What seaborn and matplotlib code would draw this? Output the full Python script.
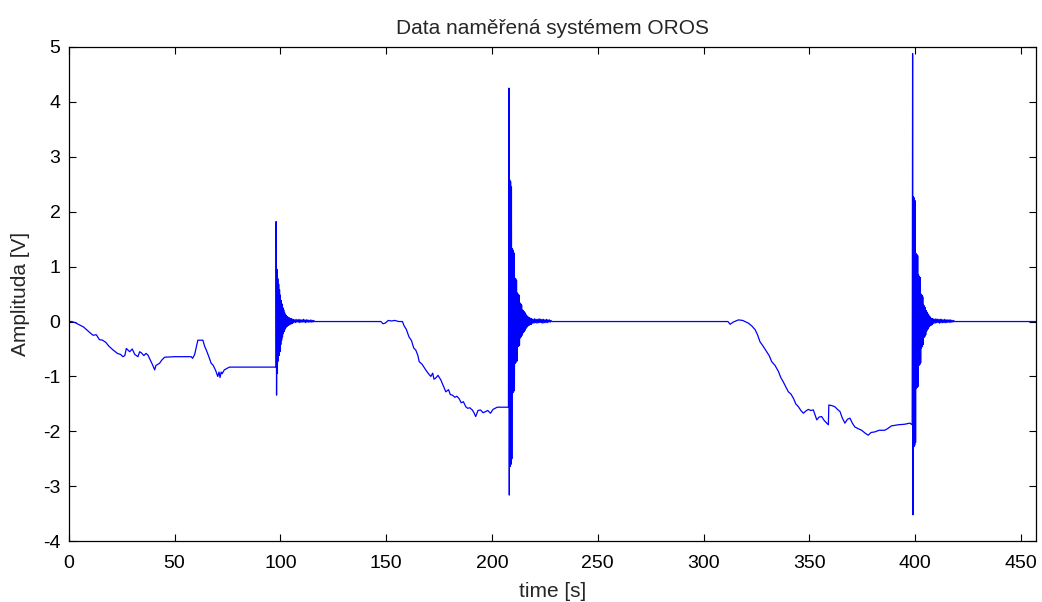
import numpy as np
import pandas as pd
import matplotlib
matplotlib.use("Agg")
import matplotlib.pyplot as plt
import seaborn as sns

# slow drift parts of the record: time [s], amplitude [V]
drift1_t = [0, 1.5, 3, 5, 7, 9, 10.5, 11.5, 13, 14.5, 16, 17.5, 19, 21, 23, 24.5, 25.6, 26.5,
            27.2, 28.8, 30, 31.2, 32.7, 33.5, 34.3, 35.5, 36.5, 37.4, 38.5, 39.5, 40.6, 41.2,
            42.9, 44, 45.3, 50, 55, 57.9, 58.5, 59.5, 61, 63.4, 64.2, 65, 66, 67.3, 68.3, 69.5,
            70.4, 71, 71.5, 72, 72.5, 73.5, 75.9, 85, 97.9]
drift1_v = [0.0, 0.0, -0.02, -0.06, -0.10, -0.17, -0.22, -0.25, -0.24, -0.33, -0.34, -0.38,
            -0.45, -0.52, -0.58, -0.60, -0.64, -0.62, -0.49, -0.55, -0.50, -0.60, -0.64, -0.55,
            -0.57, -0.62, -0.58, -0.61, -0.70, -0.78, -0.88, -0.80, -0.76, -0.70, -0.65, -0.64,
            -0.64, -0.64, -0.67, -0.60, -0.34, -0.34, -0.45, -0.52, -0.62, -0.76, -0.80, -0.90,
            -1.00, -0.92, -1.02, -0.92, -0.95, -0.88, -0.83, -0.83, -0.83]

drift2_t = [116.5, 147.5, 148.5, 149.5, 151, 152.5, 154, 156, 157.7, 158.5, 159.5, 160.8, 162,
            163, 164, 165, 165.6, 167, 168.7, 170, 171.1, 172, 172.6, 173.4, 174.5, 175.8, 176.8,
            178.2, 179.5, 180.3, 181.3, 182.5, 183.4, 184.4, 185.5, 186.5, 187.6, 188.5, 189.5,
            190.7, 191.5, 192.3, 193.4, 194.6, 195.8, 197, 198, 199.3, 200.5, 202.5, 207.8]
drift2_v = [0.0, 0.0, -0.04, -0.03, 0.02, 0.01, 0.02, 0.0, 0.0, -0.08, -0.14, -0.28, -0.35,
            -0.48, -0.52, -0.62, -0.73, -0.78, -0.88, -0.95, -1.00, -0.94, -1.05, -1.03, -0.98,
            -1.06, -1.15, -1.28, -1.24, -1.33, -1.34, -1.38, -1.36, -1.40, -1.48, -1.46, -1.55,
            -1.58, -1.57, -1.61, -1.66, -1.73, -1.62, -1.61, -1.66, -1.64, -1.62, -1.67, -1.60,
            -1.56, -1.56]

drift3_t = [228.5, 311.5, 312.6, 314, 316.5, 318.5, 321.2, 322.8, 324.4, 325.5, 326.7, 328,
            329.8, 331, 332.2, 333.8, 335.4, 336.5, 337.7, 339, 340.1, 341.3, 342.5, 343.6,
            344.8, 346, 347.2, 348.3, 349.5, 350.7, 351.9, 352.7, 353.5, 354.6, 355.8, 357,
            358.2, 359.0, 359.2, 360.5, 362, 363.3, 364.5, 365.5, 366.8, 368, 369.2, 370.3,
            371.5, 373, 374.7, 376.3, 377.8, 379.2, 380.9, 383, 385.6, 387, 388.8, 392, 395.1,
            397.5, 398.6]
drift3_v = [0.0, 0.0, -0.05, -0.01, 0.03, 0.02, -0.03, -0.08, -0.15, -0.24, -0.37, -0.44,
            -0.55, -0.62, -0.73, -0.80, -0.91, -1.02, -1.10, -1.20, -1.28, -1.32, -1.40, -1.50,
            -1.55, -1.62, -1.67, -1.63, -1.60, -1.62, -1.61, -1.70, -1.79, -1.74, -1.73, -1.80,
            -1.85, -1.88, -1.52, -1.53, -1.55, -1.60, -1.64, -1.75, -1.85, -1.78, -1.76, -1.85,
            -1.92, -1.95, -1.98, -2.03, -2.07, -2.02, -2.01, -1.98, -1.98, -1.95, -1.90, -1.88,
            -1.87, -1.85, -1.88]

drift4_t = [419.5, 457]
drift4_v = [0.0, 0.0]

# ringing after each impact, one value per sample (sample step RING_DT)
RING_DT = 0.2
ring1_start = 98.0
ring1_v = [1.82, -1.34, 0.95, -0.94, 0.78, -0.72, 0.68, -0.62, 0.58, -0.55, 0.48, -0.42,
           0.38, -0.34, 0.32, -0.28, 0.25, -0.22, 0.21, -0.18, 0.16, -0.14, 0.13, -0.11,
           0.11, -0.09, 0.09, -0.08, 0.08, -0.07, 0.07, -0.06, 0.06, -0.05, 0.05, -0.04,
           0.05, -0.04, 0.04, -0.03]
ring2_start = 208.0
ring2_v = [4.25, -3.16, 2.58, -2.64, 2.55, -2.60, 2.45, -2.50, 1.33, -1.30, 1.30, -1.28,
           1.25, -1.25, 0.79, -0.76, 0.78, -0.74, 0.75, -0.72, 0.52, -0.46, 0.50, -0.45,
           0.48, -0.43, 0.34, -0.30, 0.32, -0.28, 0.30, -0.25, 0.21, -0.21, 0.20, -0.19,
           0.18, -0.17, 0.16, -0.15, 0.13, -0.12, 0.11, -0.10, 0.09, -0.08, 0.08, -0.07,
           0.07, -0.06, 0.06, -0.05, 0.05, -0.05]
ring3_start = 398.8
ring3_v = [4.88, -3.52, 2.27, -2.28, 2.25, -2.25, 2.20, -2.20, 1.24, -1.22, 1.22, -1.20,
           1.20, -1.18, 0.85, -0.80, 0.82, -0.78, 0.80, -0.75, 0.50, -0.48, 0.48, -0.45,
           0.45, -0.42, 0.30, -0.29, 0.28, -0.27, 0.25, -0.24, 0.20, -0.18, 0.17, -0.15,
           0.14, -0.13, 0.12, -0.10, 0.09, -0.08, 0.08, -0.07, 0.06, -0.06, 0.05, -0.05]

# low-level residue after the ringing dies out (sample step TAIL_DT)
TAIL_DT = 0.35
tail1_v = [0.04, -0.01, 0.03, -0.02, 0.04, -0.01, 0.03, -0.01, 0.04, -0.02, 0.03, -0.01,
           0.03, -0.01, 0.04, -0.01, 0.03, -0.02, 0.03, -0.01, 0.03, -0.01, 0.02, -0.01,
           0.03, -0.01, 0.02, -0.01, 0.02, 0.0]
tail2_v = [0.05, -0.03, 0.04, -0.03, 0.05, -0.02, 0.04, -0.03, 0.04, -0.02, 0.05, -0.02,
           0.04, -0.02, 0.04, -0.03, 0.04, -0.02, 0.03, -0.02, 0.04, -0.02, 0.03, -0.01,
           0.03, -0.01, 0.02, 0.0]
tail3_v = [0.05, -0.03, 0.04, -0.03, 0.05, -0.02, 0.04, -0.02, 0.04, -0.03, 0.04, -0.02,
           0.04, -0.02, 0.03, -0.02, 0.04, -0.02, 0.03, -0.02, 0.03, -0.01, 0.03, -0.02,
           0.03, -0.01, 0.02, -0.01, 0.02, 0.0]

x_ticks = list(range(0, 451, 50))
y_ticks = list(range(-4, 6))


def sampled(start, step, values):
    return [start + step * i for i in range(len(values))], list(values)


def build_record():
    parts = [(drift1_t, drift1_v)]
    t, v = sampled(ring1_start, RING_DT, ring1_v)
    parts.append((t, v))
    parts.append(sampled(t[-1] + RING_DT, TAIL_DT, tail1_v))
    parts.append((drift2_t, drift2_v))
    t, v = sampled(ring2_start, RING_DT, ring2_v)
    parts.append((t, v))
    parts.append(sampled(t[-1] + RING_DT, TAIL_DT, tail2_v))
    parts.append((drift3_t, drift3_v))
    t, v = sampled(ring3_start, RING_DT, ring3_v)
    parts.append((t, v))
    parts.append(sampled(t[-1] + RING_DT, TAIL_DT, tail3_v))
    parts.append((drift4_t, drift4_v))
    times = np.concatenate([p[0] for p in parts])
    amps = np.concatenate([p[1] for p in parts])
    return pd.DataFrame({"time": times, "amp": amps})


sns.set_style("ticks")
plt.rcParams['font.family'] = ['Liberation Sans', 'DejaVu Sans']
plt.rcParams['axes.unicode_minus'] = False

df = build_record()

fig = plt.figure(figsize=(10.42, 6.02), dpi=100)
ax = fig.add_axes([0.066, 0.101, 0.928, 0.821])
sns.lineplot(data=df, x="time", y="amp", estimator=None, sort=False,
             color="#0000ff", linewidth=0.9, ax=ax)

ax.set_xlim(0, 457)
ax.set_ylim(-4, 5)
ax.set_xticks(x_ticks)
ax.set_yticks(y_ticks)
ax.tick_params(direction="in", top=True, right=True, length=5, width=0.8,
               labelsize=14, colors="black")
ax.tick_params(axis="x", pad=10)
ax.tick_params(axis="y", pad=6)
for side in ax.spines.values():
    side.set_visible(True)
    side.set_color("black")
    side.set_linewidth(0.9)

ax.set_title("Data naměřená systémem OROS", fontsize=15, pad=9)
ax.set_xlabel("time [s]", fontsize=15, labelpad=7)
ax.set_ylabel("Amplituda [V]", fontsize=15, labelpad=9)

fig.savefig("out.png", dpi=100)
